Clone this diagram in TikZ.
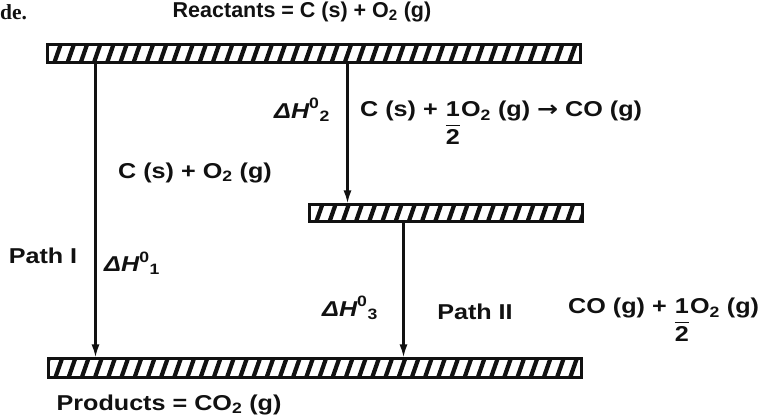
\documentclass[tikz,border=0pt]{standalone}
\usepackage{amsmath}
\usepackage{fontspec}
\setmainfont{Liberation Sans}
\setsansfont{Liberation Sans}
\newfontfamily\widefont{Liberation Sans}[FakeStretch=1.17]
\newfontfamily\serifdoc{Liberation Serif}
\newfontfamily\arrowfont{DejaVu Sans}[FakeStretch=1.17]
\usetikzlibrary{arrows.meta,calc,positioning}
\definecolor{InkMain}{HTML}{111111}
\tikzset{
  level/.style={
    draw=InkMain,
    line width=3pt,
    minimum height=18pt,
    inner sep=0pt,
    path picture={
      \foreach \k in {0,...,45}
        \draw[InkMain, line width=4.2pt]
          ([xshift=\k*13.2pt-6pt]path picture bounding box.south west) -- ++(7pt,20pt);
    }
  },
  enthalpy/.style={draw=InkMain, line width=2.2pt, -{Latex[length=13pt,width=8pt]}},
  lbl/.style={text=InkMain, font=\widefont\fontsize{21.5}{24}\selectfont\bfseries, inner sep=0pt}
}
\newcommand{\dH}[1]{$\text{\itshape ΔH}^{\text{0}}{}_{\text{#1}}$}
\newcommand{\half}{\raisebox{-0.62em}{$\dfrac{\text{1}}{\text{2}}$}}

\begin{document}
\begin{tikzpicture}[x=1pt,y=1pt]
    \useasboundingbox (0,0) rectangle (762,417);

    % energy levels
    \node[level, minimum width=533pt] (reac) at (313.5,363) {};
    \node[level, minimum width=273pt, minimum height=17pt] (inter) at (445.5,203.5) {};
    \node[level, minimum width=533pt, minimum height=19pt] (prod) at (314.5,48.5) {};

    % paths
    \draw[enthalpy] ([xshift=50pt]reac.south west) -- ([xshift=50pt]reac.south west |- prod.north);
    \draw[enthalpy] ([xshift=302pt]reac.south west) -- ([xshift=302pt]reac.south west |- inter.north);
    \draw[enthalpy] ([xshift=96pt]inter.south west) -- ([xshift=96pt]inter.south west |- prod.north);

    % labels
    \node[lbl, font=\serifdoc\fontsize{21.5}{24}\selectfont\bfseries, anchor=west] (cut) at (0,405) {de.};
    \node[lbl, font=\fontsize{21.5}{24}\selectfont\bfseries] (reaclbl) at (302,405) {Reactants = C (s) + O\textsubscript{2} (g)};
    \node[lbl] (pathrxn) at (195,244) {C (s) + O\textsubscript{2} (g)};
    \node[lbl] (dhtwo) at (302,307) {\dH{2}};
    \node[lbl, anchor=base west] (stepone) at (360,300) {C (s) + \half O\textsubscript{2} (g) {\arrowfont→} CO (g)};
    \node[lbl] (pathone) at (43,161) {Path I};
    \node[lbl, anchor=west] (dhone) at (104,154) {\dH{1}};
    \node[lbl] (dhthree) at (350,109) {\dH{3}};
    \node[lbl] (pathtwo) at (475,105) {Path II};
    \node[lbl, anchor=base west] (steptwo) at (568,103) {CO (g) + \half O\textsubscript{2} (g)};
    \node[lbl] (prodlbl) at (169,12) {Products = CO\textsubscript{2} (g)};
\end{tikzpicture}
\end{document}
